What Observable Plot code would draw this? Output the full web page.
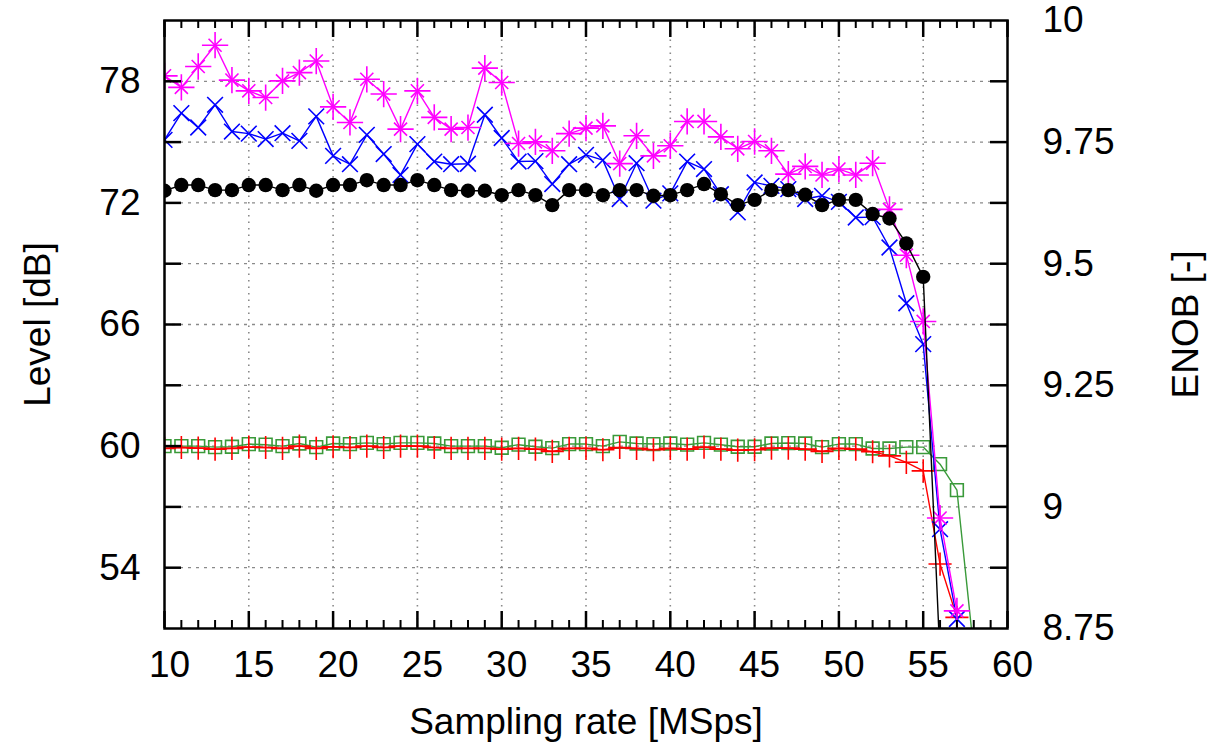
<!DOCTYPE html>
<html>
<head>
<meta charset="utf-8">
<script src="https://cdn.jsdelivr.net/npm/d3@7"></script>
<script src="https://cdn.jsdelivr.net/npm/@observablehq/plot@0.6"></script>
<style>
  html, body { margin: 0; padding: 0; background: #fff; }
  svg { display: block; }
</style>
</head>
<body>
<div id="chart"></div>
<script>
// Sampling rate [MSps]
const rate = [10, 11, 12, 13, 14, 15, 16, 17, 18, 19, 20, 21, 22, 23, 24, 25, 26, 27, 28, 29,
  30, 31, 32, 33, 34, 35, 36, 37, 38, 39, 40, 41, 42, 43, 44, 45, 46, 47, 48, 49,
  50, 51, 52, 53, 54, 55, 56, 57, 58];

// Level [dB] per series (one value per sampling rate, starting at 10 MSps)
const magentaSeries = [78.27, 77.7, 78.73, 79.78, 78.06, 77.53, 77.2, 78.02, 78.43, 79.0,
  76.74, 75.97, 78.1, 77.37, 75.64, 77.53, 76.22, 75.64, 75.72, 78.65,
  77.94, 74.93, 75.01, 74.57, 75.42, 75.69, 75.8, 73.94, 75.31, 74.32,
  74.82, 76.02, 76.02, 75.26, 74.67, 75.03, 74.57, 73.42, 73.8, 73.38,
  73.67, 73.38, 73.96, 71.68, 69.42, 66.15, 56.45, 51.87];
const blueSeries = [75.11, 76.43, 75.72, 76.84, 75.52, 75.42, 75.15, 75.44, 75.06, 76.27,
  74.32, 73.91, 75.36, 74.41, 73.38, 74.9, 74.04, 73.91, 73.93, 76.35,
  75.2, 74.04, 74.06, 72.93, 73.91, 74.37, 74.11, 72.19, 73.96, 72.11,
  72.47, 74.04, 73.67, 72.43, 71.53, 73.01, 72.84, 72.68, 72.19, 72.35,
  72.05, 71.28, 71.3, 69.8, 67.05, 65.03, 55.9, 51.47];
const blackSeries = [72.6, 72.88, 72.88, 72.63, 72.63, 72.88, 72.88, 72.63, 72.88, 72.6,
  72.88, 72.88, 73.12, 72.88, 72.88, 73.12, 72.88, 72.63, 72.6, 72.6,
  72.38, 72.63, 72.38, 71.89, 72.63, 72.63, 72.38, 72.63, 72.63, 72.35,
  72.38, 72.63, 72.93, 72.43, 71.89, 72.15, 72.63, 72.63, 72.4, 71.89,
  72.15, 72.15, 71.45, 71.23, 70.0, 68.35, 49.5];
const greenSeries = [60.0, 60.0, 60.0, 59.95, 59.97, 60.1, 60.07, 60.0, 60.13, 59.95,
  60.13, 60.1, 60.16, 60.1, 60.16, 60.16, 60.13, 60.0, 60.0, 60.0,
  59.92, 60.07, 59.97, 59.9, 60.1, 60.1, 60.0, 60.21, 60.13, 60.1,
  60.13, 60.07, 60.16, 60.07, 59.97, 59.97, 60.13, 60.15, 60.13, 59.95,
  60.1, 60.1, 59.88, 59.88, 59.95, 59.95, 59.11, 57.83, 49.9];
const redSeries = [59.89, 59.93, 59.9, 59.85, 59.89, 59.95, 59.93, 59.89, 60.0, 59.89,
  59.97, 59.93, 60.0, 59.93, 60.0, 60.0, 59.93, 59.89, 59.89, 59.89,
  59.85, 59.89, 59.85, 59.74, 59.89, 59.89, 59.82, 59.93, 59.89, 59.82,
  59.89, 59.85, 59.95, 59.85, 59.8, 59.82, 59.9, 59.9, 59.85, 59.74,
  59.89, 59.85, 59.72, 59.52, 59.2, 58.78, 54.18, 51.55];

// Axis ticks
const xLabels = [10, 15, 20, 25, 30, 35, 40, 45, 50, 55, 60];
const xMinorTicks = [11, 12, 13, 14, 16, 17, 18, 19, 21, 22, 23, 24, 26, 27, 28, 29,
  31, 32, 33, 34, 36, 37, 38, 39, 41, 42, 43, 44, 46, 47, 48, 49,
  51, 52, 53, 54, 56, 57, 58, 59];
const xGrid = [15, 20, 25, 30, 35, 40, 45, 50, 55];
const yLabels = [54, 60, 66, 72, 78];
const yTicks = [54, 57, 60, 63, 66, 69, 72, 75, 78];
const enobLabels = [8.75, 9, 9.25, 9.5, 9.75, 10];
const levelDomain = [51, 81];
const enobDomain = [8.75, 10];
const xDomain = [10, 60];

const enobToDb = d3.scaleLinear().domain(enobDomain).range(levelDomain);
const dbToEnob = enobToDb.invert;

function rows(values) {
  return values.map((v, i) => ({x: rate[i], y: v}));
}
const magenta = rows(magentaSeries);
const blue = rows(blueSeries);
const black = rows(blackSeries);
const green = rows(greenSeries);
const red = rows(redSeries);

const W = 1209, H = 748;
const ML = 164, MR = 202, MT = 20, MB = 120;
const FW = W - ML - MR, FH = H - MT - MB;
// tick lengths (pixels) expressed in each scale's units
const dbPerPx = (levelDomain[1] - levelDomain[0]) / FH;
const xPerPx = (xDomain[1] - xDomain[0]) / FW;
const MINOR_Y = 8 * dbPerPx, MAJOR_Y = 17 * dbPerPx, MAJOR_X = 17 * xPerPx;

const FS = 37;
const FONT = "Liberation Sans, Arial, Helvetica, sans-serif";
const GREEN = "#3a9a3a";

const chart = Plot.plot({
  width: W,
  height: H,
  marginLeft: ML,
  marginRight: MR,
  marginTop: MT,
  marginBottom: MB,
  style: {fontFamily: FONT, fontSize: FS + "px", background: "#fff", color: "#000"},
  x: {domain: xDomain, axis: null},
  y: {domain: levelDomain, axis: null},
  marks: [
    // grid
    Plot.ruleY(yTicks, {y: d => d, stroke: "#8a8a8a", strokeWidth: 1.3, strokeDasharray: "3,5"}),
    Plot.ruleX(xGrid, {x: d => d, stroke: "#8a8a8a", strokeWidth: 1.6, strokeDasharray: "1.5,5"}),

    // series
    Plot.line(green, {x: "x", y: "y", stroke: GREEN, strokeWidth: 1.4, clip: true}),
    Plot.dot(green, {x: "x", y: "y", symbol: "square", r: 7.2, stroke: GREEN, strokeWidth: 1.6, fill: "none", clip: true}),
    Plot.line(red, {x: "x", y: "y", stroke: "#ff0000", strokeWidth: 1.4, clip: true}),
    Plot.dot(red, {x: "x", y: "y", symbol: "plus", r: 7.5, stroke: "#ff0000", strokeWidth: 1.6, clip: true}),
    Plot.line(blue, {x: "x", y: "y", stroke: "#0000ff", strokeWidth: 1.4, clip: true}),
    Plot.dot(blue, {x: "x", y: "y", symbol: "times", r: 7.2, stroke: "#0000ff", strokeWidth: 1.6, clip: true}),
    Plot.line(magenta, {x: "x", y: "y", stroke: "#ff00ff", strokeWidth: 1.4, clip: true}),
    Plot.dot(magenta, {x: "x", y: "y", symbol: "plus", r: 8.5, stroke: "#ff00ff", strokeWidth: 1.6, clip: true}),
    Plot.dot(magenta, {x: "x", y: "y", symbol: "times", r: 6, stroke: "#ff00ff", strokeWidth: 1.6, clip: true}),
    Plot.line(black, {x: "x", y: "y", stroke: "#000", strokeWidth: 1.4, clip: true}),
    Plot.dot(black, {x: "x", y: "y", symbol: "circle", r: 7.2, fill: "#000", stroke: "none", clip: true}),

    // inward tick marks: bottom, top, left, right
    Plot.ruleX(xMinorTicks, {x: d => d, y1: levelDomain[0], y2: levelDomain[0] + MINOR_Y, stroke: "#000", strokeWidth: 2}),
    Plot.ruleX(xMinorTicks, {x: d => d, y1: levelDomain[1], y2: levelDomain[1] - MINOR_Y, stroke: "#000", strokeWidth: 2}),
    Plot.ruleX(xLabels, {x: d => d, y1: levelDomain[0], y2: levelDomain[0] + MAJOR_Y, stroke: "#000", strokeWidth: 2.5}),
    Plot.ruleX(xLabels, {x: d => d, y1: levelDomain[1], y2: levelDomain[1] - MAJOR_Y, stroke: "#000", strokeWidth: 2.5}),
    Plot.ruleY(yTicks, {y: d => d, x1: xDomain[0], x2: xDomain[0] + MAJOR_X, stroke: "#000", strokeWidth: 2.5}),
    Plot.ruleY(yTicks, {y: d => d, x1: xDomain[1], x2: xDomain[1] - MAJOR_X, stroke: "#000", strokeWidth: 2.5}),

    // frame
    Plot.frame({stroke: "#000", strokeWidth: 2.5}),

    // tick labels
    Plot.axisX(xLabels, {anchor: "bottom", label: null, tickSize: 0, tickPadding: 22, dx: 5, fontSize: FS, fill: "#000"}),
    Plot.axisY(yLabels, {anchor: "left", label: null, tickSize: 0, tickPadding: 24, fontSize: FS, fill: "#000"}),
    Plot.axisY(enobLabels.map(enobToDb), {anchor: "right", label: null, tickSize: 0, tickPadding: 35, fontSize: FS, fill: "#000",
      tickFormat: d => String(+dbToEnob(d).toFixed(2))}),

    // axis titles
    Plot.text(["Sampling rate [MSps]"], {text: d => d, frameAnchor: "bottom", dy: 94, textAnchor: "middle", lineAnchor: "middle", fontSize: FS, fill: "#000"}),
    Plot.text(["Level [dB]"], {text: d => d, frameAnchor: "left", rotate: -90, dx: -126, textAnchor: "middle", lineAnchor: "middle", fontSize: FS, fill: "#000"}),
    Plot.text(["ENOB [-]"], {text: d => d, frameAnchor: "right", rotate: -90, dx: 179, textAnchor: "middle", lineAnchor: "middle", fontSize: FS, fill: "#000"})
  ]
});
document.getElementById("chart").appendChild(chart);
</script>
</body>
</html>
